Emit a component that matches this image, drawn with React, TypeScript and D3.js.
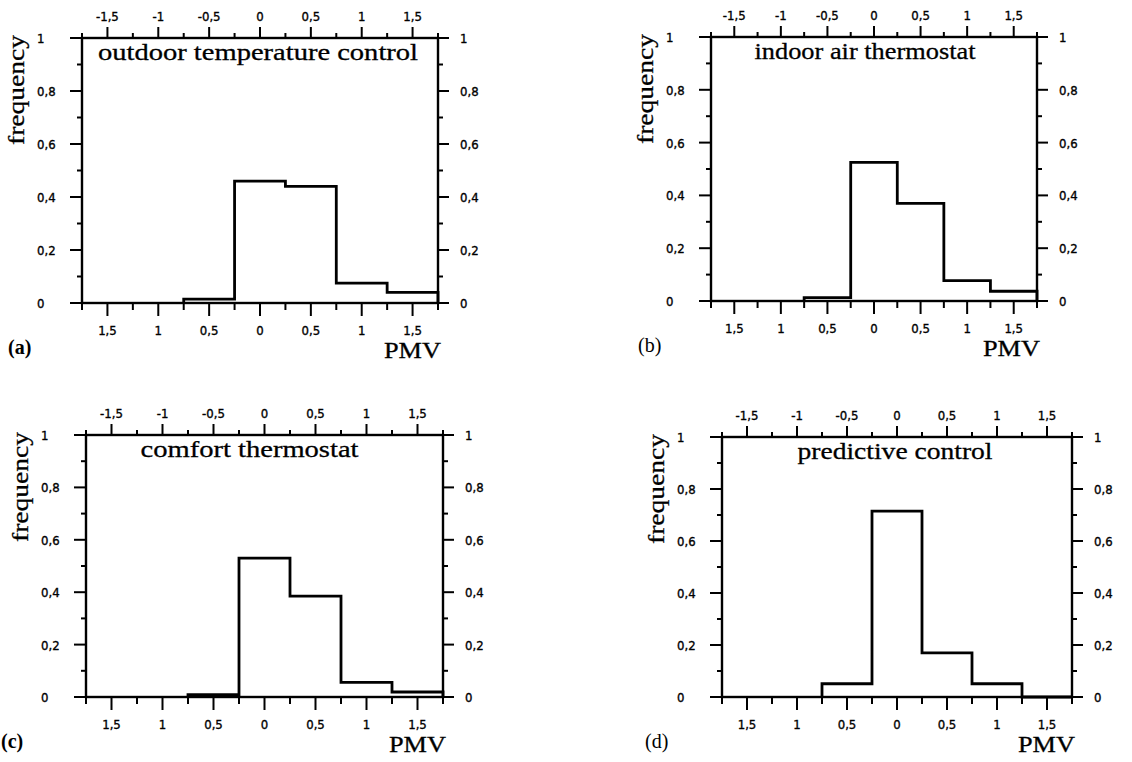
import React from 'react';
import * as d3 from 'd3';

// PMV bins (centres), bin half-width 0.25
const binCenters = [-0.5, 0, 0.5, 1, 1.5];
const outdoorFreq = [0.015, 0.46, 0.44, 0.075, 0.04];
const indoorFreq = [0.013, 0.525, 0.37, 0.077, 0.037];
const comfortFreq = [0.009, 0.53, 0.385, 0.056, 0.019];
const predictiveFreq = [0.051, 0.715, 0.17, 0.051, 0];

const xMajor = [-1.5, -1, -0.5, 0, 0.5, 1, 1.5];
const xMinor = [-1.75, -1.25, -0.75, -0.25, 0.25, 0.75, 1.25, 1.75];
const topLabels = ['-1,5', '-1', '-0,5', '0', '0,5', '1', '1,5'];
const bottomLabels = ['1,5', '1', '0,5', '0', '0,5', '1', '1,5'];
const yMajor = [0, 0.2, 0.4, 0.6, 0.8, 1];
const yMinor = [0.1, 0.3, 0.5, 0.7, 0.9];
const yLabels = ['0', '0,2', '0,4', '0,6', '0,8', '1'];

const panels = [
  { tag: '(a)', title: 'outdoor temperature control', values: outdoorFreq },
  { tag: '(b)', title: 'indoor air thermostat', values: indoorFreq },
  { tag: '(c)', title: 'comfort thermostat', values: comfortFreq },
  { tag: '(d)', title: 'predictive control', values: predictiveFreq },
];

// frame boxes in page pixels + a few per-panel text nudges
const layout = [
  { left: 82, right: 438, top: 38, bottom: 303, titleDx: -2, titleLen: 320, tagDx: -74, bold: true },
  { left: 711, right: 1037, top: 37, bottom: 301, titleDx: -9, titleLen: 221, tagDx: -73, bold: false },
  { left: 86, right: 443, top: 435, bottom: 697, titleDx: -15, titleLen: 218, tagDx: -85, bold: true },
  { left: 722, right: 1072, top: 437, bottom: 697, titleDx: -2, titleLen: 195, tagDx: -77, bold: false },
];

const serif = "'Liberation Serif', 'Times New Roman', serif";
const tickFont = "'DejaVu Sans Condensed', 'Liberation Sans Narrow', sans-serif";

const TickText = (props) => (
  <text fontFamily={tickFont} fontSize={13} stroke="#000" strokeWidth={0.35} {...props} />
);

const Panel = ({ p, box }) => {
  const x = d3.scaleLinear().domain([-1.75, 1.75]).range([box.left, box.right]);
  const y = d3.scaleLinear().domain([0, 1]).range([box.bottom, box.top]);

  const pts: [number, number][] = [[binCenters[0] - 0.25, 0]];
  binCenters.forEach((c, i) => {
    pts.push([c - 0.25, p.values[i]]);
    pts.push([c + 0.25, p.values[i]]);
  });
  pts.push([binCenters[binCenters.length - 1] + 0.25, 0]);
  const line = d3.line<[number, number]>().x(d => x(d[0])).y(d => y(d[1]));

  const cx = (box.left + box.right) / 2;

  return (
    <g>
      {/* histogram outline */}
      <path d={line(pts) || ''} fill="none" stroke="#000" strokeWidth={2.8} strokeLinejoin="miter" />

      {/* frame */}
      <rect x={box.left} y={box.top} width={box.right - box.left} height={box.bottom - box.top}
        fill="none" stroke="#000" strokeWidth={2.4} />

      {/* top & bottom ticks */}
      {xMajor.map((v, i) => (
        <g key={'xm' + i}>
          <line x1={x(v)} x2={x(v)} y1={box.top} y2={box.top - 11} stroke="#000" strokeWidth={2} />
          <line x1={x(v)} x2={x(v)} y1={box.bottom} y2={box.bottom + 13} stroke="#000" strokeWidth={2} />
          <TickText x={x(v)} y={box.top - 17} textAnchor="middle">{topLabels[i]}</TickText>
          <TickText x={x(v)} y={box.bottom + 32} textAnchor="middle">{bottomLabels[i]}</TickText>
        </g>
      ))}
      {xMinor.map((v, i) => (
        <g key={'xn' + i}>
          <line x1={x(v)} x2={x(v)} y1={box.top} y2={box.top - 5} stroke="#000" strokeWidth={2} />
          <line x1={x(v)} x2={x(v)} y1={box.bottom} y2={box.bottom + 7} stroke="#000" strokeWidth={2} />
        </g>
      ))}

      {/* left & right ticks */}
      {yMajor.map((v, i) => (
        <g key={'ym' + i}>
          <line x1={box.left} x2={box.left - 12} y1={y(v)} y2={y(v)} stroke="#000" strokeWidth={2} />
          <line x1={box.right} x2={box.right + 11} y1={y(v)} y2={y(v)} stroke="#000" strokeWidth={2} />
          <TickText x={box.left - 45} y={y(v) + 5}>{yLabels[i]}</TickText>
          <TickText x={box.right + 22} y={y(v) + 5}>{yLabels[i]}</TickText>
        </g>
      ))}
      {yMinor.map((v, i) => (
        <g key={'yn' + i}>
          <line x1={box.left} x2={box.left - 5} y1={y(v)} y2={y(v)} stroke="#000" strokeWidth={2} />
          <line x1={box.right} x2={box.right + 5} y1={y(v)} y2={y(v)} stroke="#000" strokeWidth={2} />
        </g>
      ))}

      {/* texts */}
      <text x={cx + box.titleDx} y={box.top + 22} textAnchor="middle" fontFamily={serif} fontSize={24}
        stroke="#000" strokeWidth={0.3} textLength={box.titleLen} lengthAdjust="spacingAndGlyphs">{p.title}</text>
      <text transform={`translate(${box.left - 58},${box.top + 52}) rotate(-90)`} textAnchor="middle"
        fontFamily={serif} fontSize={24} stroke="#000" strokeWidth={0.3}
        textLength={110} lengthAdjust="spacingAndGlyphs">frequency</text>
      <text x={box.left + box.tagDx} y={box.bottom + 51} fontFamily={serif} fontSize={20}
        fontWeight={box.bold ? 'bold' : 'normal'}>{p.tag}</text>
      <text x={box.right + 3} y={box.bottom + 55} textAnchor="end" fontFamily={serif} fontSize={22.5}
        stroke="#000" strokeWidth={0.3} textLength={57} lengthAdjust="spacingAndGlyphs">PMV</text>
    </g>
  );
};

export default function App() {
  return (
    <svg width={1132} height={762} style={{ position: 'absolute', left: 0, top: 0, background: '#fff' }}>
      {panels.map((p, i) => <Panel key={p.tag} p={p} box={layout[i]} />)}
    </svg>
  );
}
